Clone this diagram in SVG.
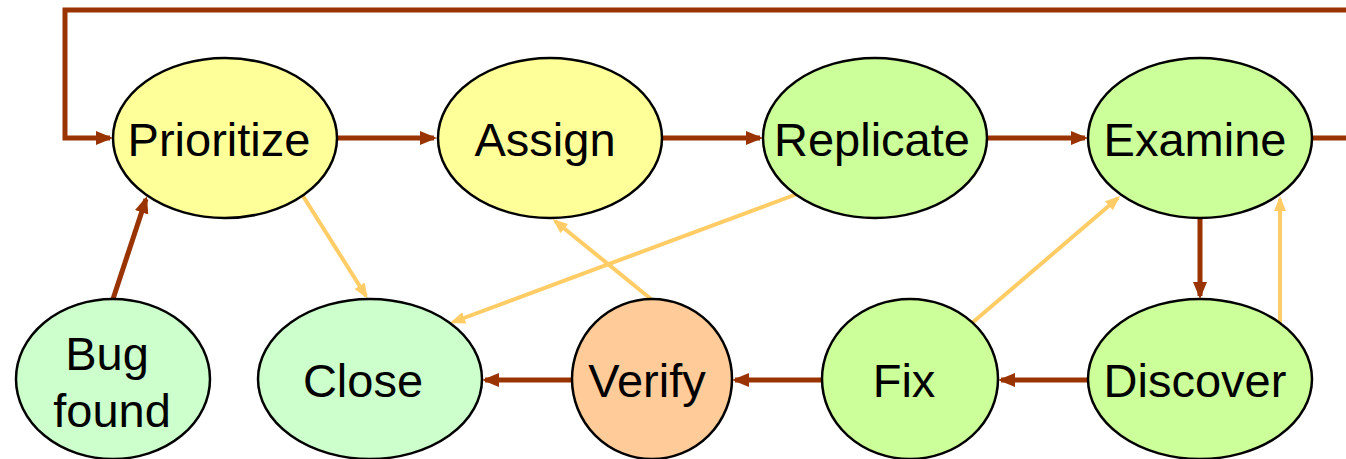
<svg xmlns="http://www.w3.org/2000/svg" width="1346" height="459" viewBox="0 0 1346 459">
<style>
.n{stroke:#000;stroke-width:2.5}
.t{font-family:"Liberation Sans",Arial,sans-serif;font-size:47px;fill:#000;text-anchor:middle}
.d{stroke:#993300;stroke-width:5;fill:none}
.l{stroke:#FFCC66;stroke-width:4;fill:none}
</style>
<defs>
<marker id="ad" markerUnits="userSpaceOnUse" markerWidth="18" markerHeight="16" refX="14" refY="7" orient="auto"><path d="M0,0 L17,7 L0,14 z" fill="#993300"/></marker>
<marker id="al" markerUnits="userSpaceOnUse" markerWidth="16" markerHeight="14" refX="12" refY="6" orient="auto"><path d="M0,0 L15,6 L0,12 z" fill="#FFCC66"/></marker>
</defs>
<g id="connectors">
<polyline class="d" points="1313,138 1350,138 1350,10 65,10 65,138 110,138" marker-end="url(#ad)"/>
<line class="d" x1="337" y1="138" x2="434" y2="138" marker-end="url(#ad)"/>
<line class="d" x1="662" y1="138" x2="760" y2="138" marker-end="url(#ad)"/>
<line class="d" x1="988" y1="138" x2="1085" y2="138" marker-end="url(#ad)"/>
<line class="d" x1="1200" y1="218" x2="1200" y2="296" marker-end="url(#ad)"/>
<line class="d" x1="1088" y1="380" x2="1001" y2="380" marker-end="url(#ad)"/>
<line class="d" x1="822" y1="380" x2="735" y2="380" marker-end="url(#ad)"/>
<line class="d" x1="572" y1="380" x2="485" y2="380" marker-end="url(#ad)"/>
<line class="d" x1="113" y1="299" x2="146" y2="199" marker-end="url(#ad)"/>
<line class="l" x1="303" y1="196" x2="366" y2="296" marker-end="url(#al)"/>
<line class="l" x1="797" y1="194" x2="453" y2="322" marker-end="url(#al)"/>
<line class="l" x1="651" y1="299" x2="555" y2="221" marker-end="url(#al)"/>
<line class="l" x1="972" y1="323" x2="1118" y2="198" marker-end="url(#al)"/>
<line class="l" x1="1280" y1="323" x2="1280" y2="199" marker-end="url(#al)"/>
</g>
<g id="prioritize"><ellipse class="n" cx="225" cy="138" rx="112" ry="80" fill="#FFFF99"/><text class="t" x="219" y="156">Prioritize</text></g>
<g id="assign"><ellipse class="n" cx="550" cy="138" rx="112" ry="80" fill="#FFFF99"/><text class="t" x="545" y="156">Assign</text></g>
<g id="replicate"><ellipse class="n" cx="875" cy="138" rx="112" ry="80" fill="#CCFF99"/><text class="t" x="872" y="156">Replicate</text></g>
<g id="examine"><ellipse class="n" cx="1200" cy="138" rx="112" ry="80" fill="#CCFF99"/><text class="t" x="1195" y="156">Examine</text></g>
<g id="bug-found"><ellipse class="n" cx="113" cy="379" rx="97" ry="80" fill="#CCFFCC"/><text class="t" x="107" y="370">Bug</text><text class="t" x="112" y="427">found</text></g>
<g id="close"><ellipse class="n" cx="370" cy="379" rx="112" ry="80" fill="#CCFFCC"/><text class="t" x="363" y="397">Close</text></g>
<g id="verify"><ellipse class="n" cx="652" cy="379" rx="80" ry="80" fill="#FFCC99"/><text class="t" x="647" y="397">Verify</text></g>
<g id="fix"><ellipse class="n" cx="910" cy="379" rx="88" ry="80" fill="#CCFF99"/><text class="t" x="904" y="397">Fix</text></g>
<g id="discover"><ellipse class="n" cx="1200" cy="379" rx="112" ry="80" fill="#CCFF99"/><text class="t" x="1195" y="397">Discover</text></g>
</svg>
